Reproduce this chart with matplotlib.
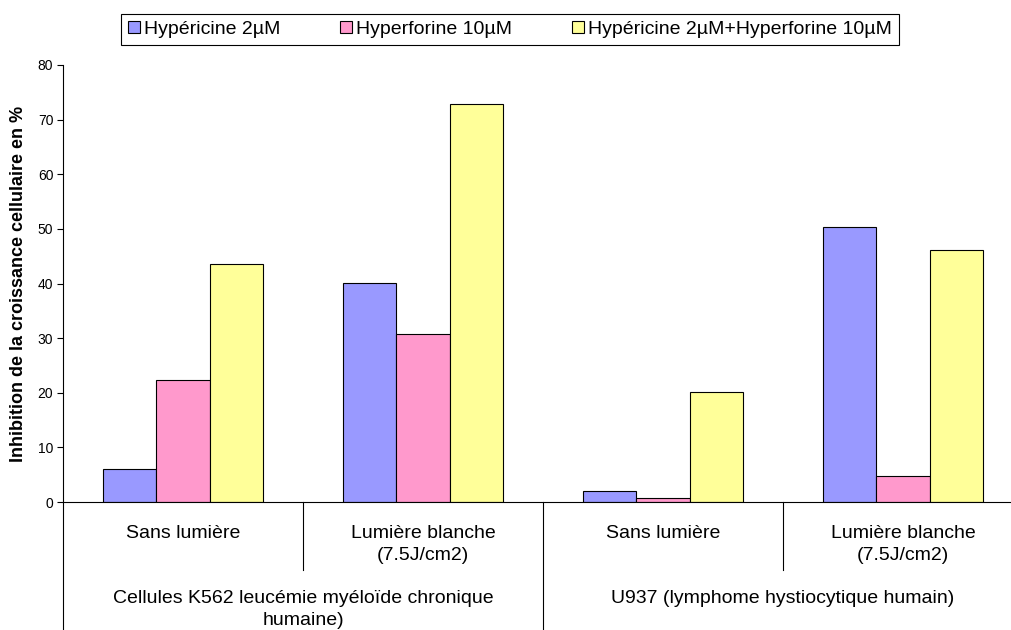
import matplotlib.pyplot as plt
from matplotlib.patches import Patch
import numpy as np

plt.rcParams['font.family'] = ['Liberation Sans', 'DejaVu Sans']

# données
series_names = ["Hypéricine 2µM", "Hyperforine 10µM", "Hypéricine 2µM+Hyperforine 10µM"]
conditions = ["Sans lumière", "Lumière blanche\n(7.5J/cm2)", "Sans lumière", "Lumière blanche\n(7.5J/cm2)"]
cell_lines = ["Cellules K562 leucémie myéloïde chronique\nhumaine)", "U937 (lymphome hystiocytique humain)"]
hypericine = [6.0, 40.1, 2.0, 50.4]
hyperforine = [22.4, 30.8, 0.7, 4.8]
combinaison = [43.6, 72.9, 20.1, 46.2]
colors = ["#9999FF", "#FF99CC", "#FFFF99"]

W, H = 1011, 630
fig = plt.figure(figsize=(W / 100, H / 100), dpi=100)
ax = fig.add_axes([63 / W, 128 / H, 960 / W, 437 / H])

x = np.arange(len(conditions)) + 0.5
bw = 2 / 9
for i, vals in enumerate([hypericine, hyperforine, combinaison]):
    ax.bar(x + (i - 1) * bw, vals, bw, color=colors[i], edgecolor="black", linewidth=0.8)

ax.set_xlim(0, 4)
ax.set_ylim(0, 80)
ax.set_yticks(range(0, 81, 10))
ax.tick_params(axis="y", length=4, width=0.8, labelsize=10, pad=3)
ax.set_xticks([])
ax.spines["top"].set_visible(False)
ax.spines["right"].set_visible(False)
ax.spines["bottom"].set_linewidth(0.8)
ax.spines["left"].set_linewidth(0.8)

ax.set_ylabel("Inhibition de la croissance cellulaire en %", fontsize=13, fontweight="bold", labelpad=8)

# séparateurs et libellés de catégories
tr = ax.get_xaxis_transform()
bottom = -128 / 437
ax.plot([0, 0], [0, bottom], transform=tr, color="black", lw=0.8, clip_on=False)
ax.plot([2, 2], [0, bottom], transform=tr, color="black", lw=0.8, clip_on=False)
for xs in [1, 3]:
    ax.plot([xs, xs], [0, -68 / 437], transform=tr, color="black", lw=0.8, clip_on=False)

for xc, lab in zip(x, conditions):
    ax.text(xc, -23 / 437, lab, transform=tr, ha="center", va="top", fontsize=14, linespacing=1.35)
for xc, lab in zip([1, 3], cell_lines):
    ax.text(xc, -88 / 437, lab, transform=tr, ha="center", va="top", fontsize=14, linespacing=1.35)

handles = [Patch(facecolor=c, edgecolor="black", linewidth=0.8) for c in colors]
leg = fig.legend(handles, series_names, ncol=3, loc="upper center",
                 bbox_to_anchor=(510 / W, 1 - 14 / H), fontsize=14,
                 handlelength=0.6, handleheight=0.6, handletextpad=0.2,
                 columnspacing=3.1, borderpad=0.35, borderaxespad=0,
                 fancybox=False, framealpha=1)
leg.get_frame().set_edgecolor("black")
leg.get_frame().set_linewidth(0.8)

fig.savefig("out.png", dpi=100)
